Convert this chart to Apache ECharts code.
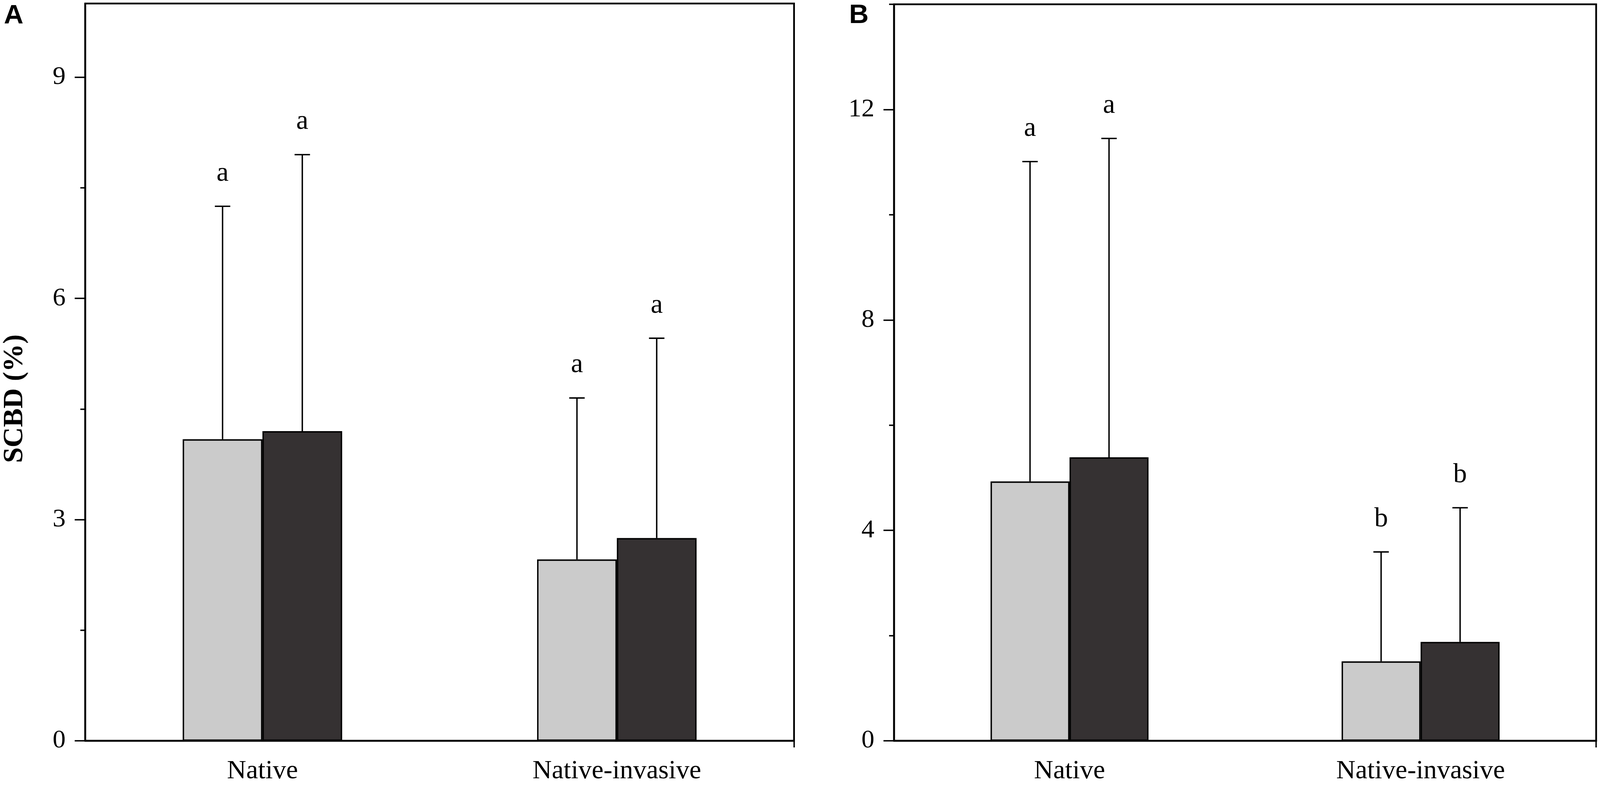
<!DOCTYPE html>
<html>
<head>
<meta charset="utf-8">
<script src="https://cdn.jsdelivr.net/npm/echarts@6/dist/echarts.min.js"></script>
<style>
html,body{margin:0;padding:0;background:#fff;overflow:hidden;}
#chart{width:100vw;height:100vh;}
</style>
</head>
<body>
<div id="chart"></div>
<script>
// ---- data ----
const categories = ['Native', 'Native-invasive'];

// Panel A
const A_light = [4.09, 2.46];
const A_dark = [4.20, 2.75];
const A_lightSD = [3.16, 2.19];
const A_darkSD = [3.75, 2.71];
const A_lightLetters = ['a', 'a'];
const A_darkLetters = ['a', 'a'];
const A_yTicks = [0, 3, 6, 9];
const A_yMinorTicks = [1.5, 4.5, 7.5];
const A_yMax = 10;

// Panel B
const B_light = [4.93, 1.51];
const B_dark = [5.39, 1.88];
const B_lightSD = [6.08, 2.08];
const B_darkSD = [6.06, 2.55];
const B_lightLetters = ['a', 'b'];
const B_darkLetters = ['a', 'b'];
const B_yTicks = [0, 4, 8, 12];
const B_yMinorTicks = [2, 6, 10, 14];
const B_yMax = 14;

const yAxisName = 'SCBD (%)';
const panelLabels = ['A', 'B'];

// ---- styles / layout (designed for 4562 x 2023, scaled to the viewport) ----
const LIGHT = '#cbcbcb';
const DARK = '#353132';
const SERIF = '"Liberation Serif", "Times New Roman", serif';
const SANS = '"Liberation Sans", Arial, sans-serif';
const BAR_FRAC = 0.225;

const el = document.getElementById('chart');
const VW = el.clientWidth || 4562;
const VH = el.clientHeight || 2023;
const sx = VW / 4562, sy = VH / 2023, sf = Math.min(sx, sy);
const X = v => v * sx, Y = v => v * sy, F = v => v * sf;

const chart = echarts.init(el, null, {renderer: 'canvas', width: VW, height: VH});

const grids = [
  {left: X(243), right: X(4562 - 2264), top: Y(9), bottom: Y(2023 - 1897)},
  {left: X(2549), right: X(4562 - 4551), top: Y(11), bottom: Y(2023 - 1897)}
].map(g => Object.assign(g, {show: true, borderColor: '#000', borderWidth: F(5), backgroundColor: 'transparent'}));

const xAxes = [];
const yAxes = [];
const series = [];

function addPanel(p, light, dark, lightSD, darkSD, lightLetters, darkLetters, yTicks, yMinor, yMax) {
  xAxes.push({
    type: 'category', gridIndex: p, data: categories,
    axisLine: {lineStyle: {color: '#000', width: F(5)}},
    axisTick: {alignWithLabel: true, length: Y(34), lineStyle: {color: '#000', width: F(4)}},
    axisLabel: {margin: Y(44), fontSize: F(76), color: '#000', fontFamily: SERIF},
    splitLine: {show: false}
  });
  xAxes.push({
    type: 'value', gridIndex: p, min: 0, max: 2, position: 'bottom',
    axisLine: {show: false},
    axisTick: {show: true, customValues: [2], length: Y(17), lineStyle: {color: '#000', width: F(4)}},
    axisLabel: {show: false},
    splitLine: {show: false}
  });
  yAxes.push({
    type: 'value', gridIndex: p, min: 0, max: yMax,
    axisLine: {show: true, lineStyle: {color: '#000', width: F(5)}},
    axisTick: {show: true, customValues: yTicks, length: X(30), lineStyle: {color: '#000', width: F(4)}},
    axisLabel: {customValues: yTicks, margin: X(56), fontSize: F(74), color: '#000', fontFamily: SERIF},
    splitLine: {show: false}
  });
  yAxes.push({
    type: 'value', gridIndex: p, min: 0, max: yMax, position: 'left',
    axisLine: {show: false},
    axisTick: {show: true, customValues: yMinor, length: X(14), lineStyle: {color: '#000', width: F(4)}},
    axisLabel: {show: false},
    splitLine: {show: false}
  });
  const xi = 2 * p, yi = 2 * p;
  const barStyle = c => ({color: c, borderColor: '#000', borderWidth: F(4)});
  series.push({
    type: 'bar', xAxisIndex: xi, yAxisIndex: yi, data: light,
    barWidth: (BAR_FRAC * 100) + '%', barGap: '0%', itemStyle: barStyle(LIGHT), silent: true
  });
  series.push({
    type: 'bar', xAxisIndex: xi, yAxisIndex: yi, data: dark,
    barWidth: (BAR_FRAC * 100) + '%', barGap: '0%', itemStyle: barStyle(DARK), silent: true
  });
  const errSeries = (means, sds, letters, side) => ({
    type: 'custom', xAxisIndex: xi, yAxisIndex: yi, z: 5, silent: true,
    data: means.map((m, i) => [i, m, m + sds[i]]),
    encode: {x: 0, y: [1, 2]},
    renderItem: function (params, api) {
      const base = api.coord([api.value(0), api.value(1)]);
      const top = api.coord([api.value(0), api.value(2)]);
      const band = api.size([1, 0])[0];
      const x = base[0] + side * band * BAR_FRAC / 2;
      const ls = {stroke: '#000', lineWidth: F(4)};
      return {
        type: 'group',
        children: [
          {type: 'line', shape: {x1: x, y1: base[1], x2: x, y2: top[1]}, style: ls},
          {type: 'line', shape: {x1: x - X(22), y1: top[1], x2: x + X(22), y2: top[1]}, style: ls},
          {type: 'text', style: {
            text: letters[params.dataIndex], x: x, y: top[1] - Y(84),
            align: 'center', verticalAlign: 'middle',
            fontSize: F(78), fontFamily: SERIF, fill: '#000'
          }}
        ]
      };
    }
  });
  series.push(errSeries(light, lightSD, lightLetters, -1));
  series.push(errSeries(dark, darkSD, darkLetters, 1));
}

addPanel(0, A_light, A_dark, A_lightSD, A_darkSD, A_lightLetters, A_darkLetters, A_yTicks, A_yMinorTicks, A_yMax);
addPanel(1, B_light, B_dark, B_lightSD, B_darkSD, B_lightLetters, B_darkLetters, B_yTicks, B_yMinorTicks, B_yMax);

const option = {
  backgroundColor: '#fff',
  animation: false,
  grid: grids,
  xAxis: xAxes,
  yAxis: yAxes,
  series: series,
  graphic: [
    {type: 'text', left: X(11), top: Y(6), style: {text: panelLabels[0], fontSize: F(77), fontWeight: 'bold', fontFamily: SANS, fill: '#000'}},
    {type: 'text', left: X(2421), top: Y(5), style: {text: panelLabels[1], fontSize: F(77), fontWeight: 'bold', fontFamily: SANS, fill: '#000'}},
    {type: 'text', x: X(43), y: Y(1021), rotation: Math.PI / 2,
     style: {text: yAxisName, fontSize: F(80), fontWeight: 'bold', fontFamily: SERIF, fill: '#000', align: 'center', verticalAlign: 'middle'}}
  ]
};
chart.setOption(option);
</script>
</body>
</html>
